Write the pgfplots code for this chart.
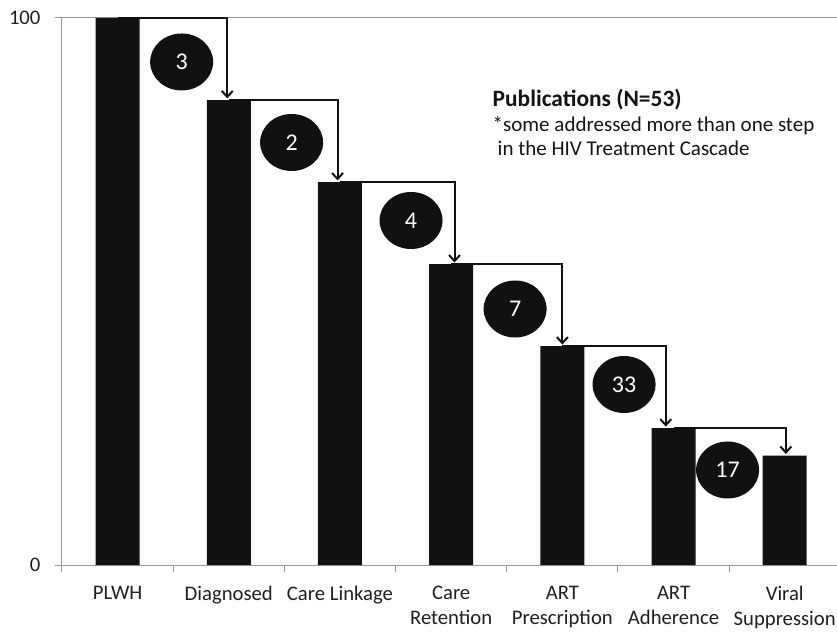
\documentclass[border=0pt]{standalone}
\usepackage{fontspec}
\setmainfont{Carlito}
\usepackage{pgfplots}
\pgfplotsset{compat=1.18}
\usetikzlibrary{arrows.meta,shapes.geometric}
\definecolor{barblack}{HTML}{111111}
\definecolor{axgray}{HTML}{999999}
\begin{document}
\begin{tikzpicture}
\begin{axis}[
  at={(0,0)}, anchor=south west, scale only axis,
  width=775bp, height=547bp,
  xmin=-0.5, xmax=6.47, ymin=0, ymax=100,
  axis x line*=bottom, axis y line*=left,
  axis line style={draw=axgray, line width=1bp, -},
  ytick={0,100}, yticklabels={0,100},
  ymajorgrids, grid style={draw=axgray, line width=1bp},
  xtick={0,1,2,3,4,5,6},
  xticklabels={PLWH, Diagnosed, Care Linkage, {Care\\Retention}, {ART\\Prescription}, {ART\\Adherence}, {Viral\\Suppression}},
  minor xtick={-0.5,0.5,1.5,2.5,3.5,4.5,5.5},
  major x tick style={draw=none},
  tick align=outside,
  major tick length=7bp, minor tick length=7bp,
  every tick/.style={draw=axgray, line width=1bp},
  minor tick style={draw=axgray, line width=1bp},
  tick label style={font=\fontsize{20.7bp}{25bp}\selectfont, text=black!88},
  xticklabel style={align=center, anchor=north, yshift=-11bp},
  yticklabel style={anchor=east, xshift=-11bp},
  clip=false,
]
\addplot[ybar, bar width=44bp, fill=barblack, draw=none] coordinates {
  (0,100) (1,85) (2,70) (3,55) (4,40) (5,25) (6,20)};
\addplot[line width=2bp, barblack, -{Straight Barb[length=6bp,width=11bp]}] coordinates {(0,100) (0.986,100) (0.986,85.3)};
\addplot[line width=2bp, barblack, -{Straight Barb[length=6bp,width=11bp]}] coordinates {(1,85) (1.978,85) (1.978,70.3)};
\addplot[line width=2bp, barblack, -{Straight Barb[length=6bp,width=11bp]}] coordinates {(2,70) (3.03,70) (3.03,55.3)};
\addplot[line width=2bp, barblack, -{Straight Barb[length=6bp,width=11bp]}] coordinates {(3,55) (4.0,55) (4.0,40.3)};
\addplot[line width=2bp, barblack, -{Straight Barb[length=6bp,width=11bp]}] coordinates {(4,40) (4.93,40) (4.93,25.3)};
\addplot[line width=2bp, barblack, -{Straight Barb[length=6bp,width=11bp]}] coordinates {(5,25) (6.01,25) (6.01,20.3)};
\addplot[draw=none, mark=none, nodes near coords, point meta=explicit symbolic,
  nodes near coords style={ellipse, fill=barblack, text=white, draw=none,
    minimum width=63bp, minimum height=57bp, inner sep=0pt, anchor=center,
    font=\fontsize{24bp}{28bp}\selectfont}]
  coordinates {
  (0.576,91.96) [3]
  (1.565,77.24) [2]
  (2.639,62.98) [4]
  (3.575,46.80) [7]
  (4.555,33.0) [33]
  (5.486,17.37) [17]
  };
\node[anchor=base west, inner sep=0pt, font=\fontsize{23.4bp}{28bp}\selectfont\bfseries, text=black!92]
  at (axis cs:3.372,83.91) {Publications (N=53)};
\node[anchor=base west, inner sep=0pt, font=\fontsize{21bp}{25bp}\selectfont, text=black!92]
  at (axis cs:3.372,79.34) {*some addressed more than one step};
\node[anchor=base west, inner sep=0pt, font=\fontsize{21bp}{25bp}\selectfont, text=black!92]
  at (axis cs:3.417,74.95) {in the HIV Treatment Cascade};
\end{axis}
\pgfresetboundingbox
\path[use as bounding box] (-62bp,-72bp) rectangle (775bp,565bp);
\end{tikzpicture}
\end{document}
